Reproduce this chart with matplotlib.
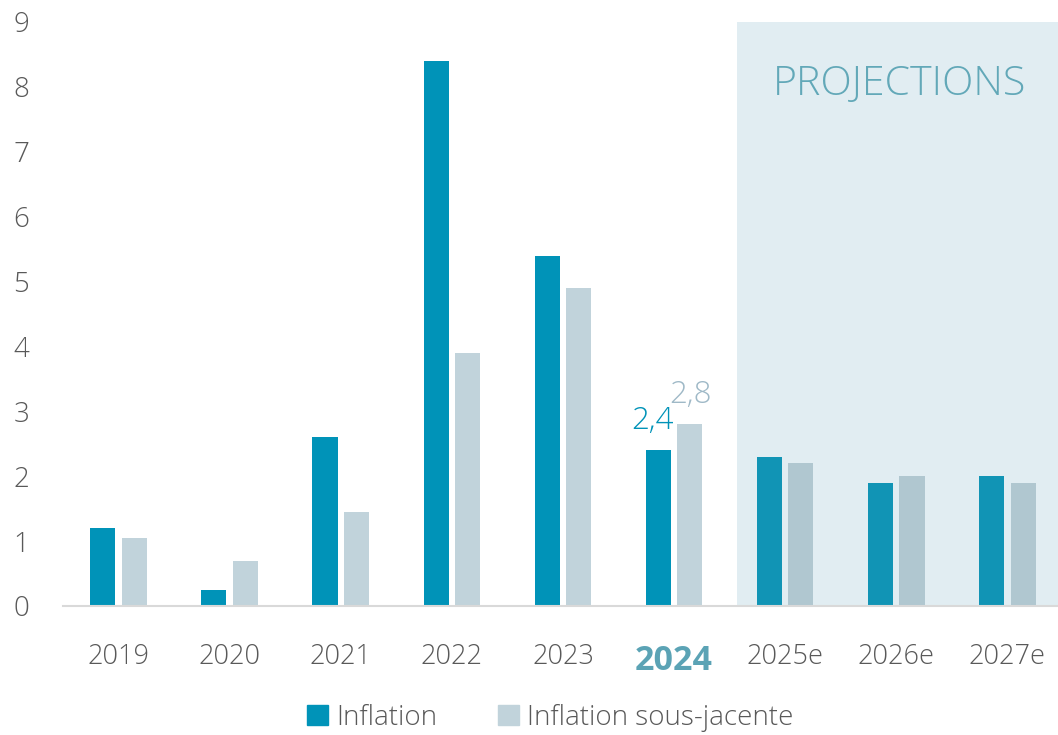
import matplotlib
matplotlib.use("Agg")
import matplotlib.pyplot as plt
from matplotlib.patches import Patch

plt.rcParams['font.family'] = ['Open Sans', 'DejaVu Sans']
plt.rcParams['font.weight'] = 'light'

categories = ["2019", "2020", "2021", "2022", "2023", "2024", "2025e", "2026e", "2027e"]
inflation = [1.2, 0.25, 2.6, 8.4, 5.4, 2.4, 2.3, 1.9, 2.0]
sous_jacente = [1.05, 0.7, 1.45, 3.9, 4.9, 2.8, 2.2, 2.0, 1.9]
series_names = ["Inflation", "Inflation sous-jacente"]
yticks = [0, 1, 2, 3, 4, 5, 6, 7, 8, 9]
n_hist = 6  # first projected index

c_inf = "#0093b8"
c_sj = "#c1d3db"
c_inf_p = "#1194b5"
c_sj_p = "#b0c7d0"
c_shade = "#e1edf2"
c_text = "#595959"

W, H = 1058, 735
fig = plt.figure(figsize=(W / 100, H / 100), dpi=100)
ax = fig.add_axes([63 / W, (H - 606) / H, (W - 63) / W, (606 - 22) / H])

ax.set_xlim(-0.5, 8.456)
ax.set_ylim(0, 9)

# projection shading
ax.axvspan(5.567, 9, ymin=0, ymax=1, color=c_shade, zorder=0, lw=0)
ax.text(7.03, 8.04, "PROJECTIONS", ha="center", va="center", fontsize=29.5,
        color="#62a8b8", fontweight="light", zorder=3)

off = 0.142
bw = 0.226
for i, cat in enumerate(categories):
    proj = i >= n_hist
    ax.bar(i - off, inflation[i], width=bw, color=c_inf_p if proj else c_inf, zorder=2, lw=0)
    ax.bar(i + off, sous_jacente[i], width=bw, color=c_sj_p if proj else c_sj, zorder=2, lw=0)

# value labels for 2024
i24 = categories.index("2024")
ax.text(i24 - off - 0.05, inflation[i24] + 0.2, "2,4", ha="center", va="bottom",
        fontsize=22.5, color="#0093b8")
ax.text(i24 + off + 0.01, sous_jacente[i24] + 0.2, "2,8", ha="center", va="bottom",
        fontsize=22.5, color="#9fb9c7")

ax.set_xticks(range(len(categories)))
ax.set_xticklabels(categories)
ax.set_yticks(yticks)
ax.set_yticklabels([str(v) for v in yticks])
ax.tick_params(axis="x", length=0, pad=27, labelsize=19.5, labelcolor=c_text)
ax.tick_params(axis="y", length=0, pad=30, labelsize=20, labelcolor=c_text)
for lbl in ax.get_yticklabels():
    lbl.set_horizontalalignment("center")
for lbl in ax.get_xticklabels():
    if lbl.get_text() == "2024":
        lbl.set_fontweight("bold")
        lbl.set_color("#5ba3b5")
        lbl.set_fontsize(24.5)

for s in ["top", "right", "left"]:
    ax.spines[s].set_visible(False)
ax.spines["bottom"].set_color("#d9d9d9")
ax.spines["bottom"].set_linewidth(1.5)
ax.set_facecolor("none")

handles = [Patch(color=c_inf), Patch(color=c_sj)]
fig.legend(handles, series_names, loc="center", bbox_to_anchor=(0.52, (H - 718) / H),
           ncol=2, frameon=False, fontsize=20, labelcolor=c_text,
           handlelength=0.75, handleheight=0.75, handletextpad=0.3, columnspacing=2.2)

fig.savefig("out.png", dpi=100)
